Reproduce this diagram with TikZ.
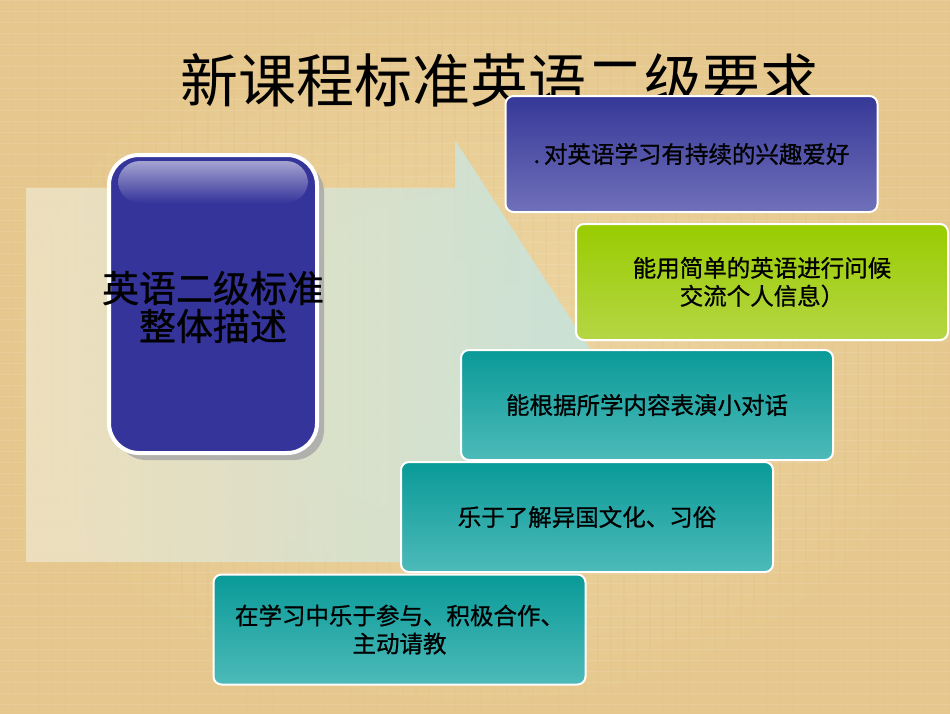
\documentclass[tikz,border=0pt]{standalone}
\usepackage{fontspec}
\newfontfamily\cjk{Noto Sans CJK SC}
\newfontfamily\cjkm[FakeBold=0.9]{Noto Sans CJK SC}
\usetikzlibrary{shadows}
\definecolor{bgtan}{HTML}{E6C88E}
\definecolor{bgtanl}{HTML}{EDD6A2}
\definecolor{navy}{HTML}{35349A}
\definecolor{navytop}{HTML}{363897}
\definecolor{navybot}{HTML}{7070BA}
\definecolor{greentop}{HTML}{99CC00}
\definecolor{greenbot}{HTML}{B5D645}
\definecolor{tealtop}{HTML}{099A98}
\definecolor{tealbot}{HTML}{4DBAB9}
\definecolor{palel}{HTML}{EFE3C4}
\definecolor{paler}{HTML}{C4E4DF}
\tikzset{
  item/.style={draw=white, line width=2pt, rounded corners=8pt,
    minimum width=372pt, minimum height=116pt, inner sep=0pt,
    align=center, text=black,
    font=\cjkm\fontsize{23.5}{28}\selectfont},
  navyitem/.style={item, top color=navytop, bottom color=navybot},
  greenitem/.style={item, top color=greentop, bottom color=greenbot},
  tealitem/.style={item, top color=tealtop, bottom color=tealbot, minimum height=110pt},
  mainbox/.style={draw=white, line width=4pt, rounded corners=30pt, fill=navy,
    minimum width=208pt, minimum height=298pt, inner sep=0pt,
    drop shadow={shadow xshift=7pt, shadow yshift=-7pt, fill=black!35, opacity=0.8}},
  maintext/.style={align=center, text=black,
    font=\cjkm\fontsize{37}{38}\selectfont},
  titletext/.style={font=\cjk\fontsize{58}{62}\selectfont, text=black}
}
\begin{document}
\begin{tikzpicture}[x=1pt,y=-1pt]
\useasboundingbox (0,0) rectangle (950,713);
% background
\shade[inner color=bgtanl, outer color=bgtan] (0,0) rectangle (950,713);
\foreach \i in {0,13,...,950} {
  \draw[bgtan!80!brown, opacity=0.12, line width=1.2pt] (\i,0) -- (\i,713);
}
\foreach \j in {0,11,...,713} {
  \draw[white, opacity=0.1, line width=1pt] (0,\j) -- (950,\j);
}
% title
\node[titletext] (title) at (499,80) {新课程标准英语二级要求};
% pale arrow
\shade[left color=palel, right color=paler, opacity=0.85]
  (26,188) -- (455,188) -- (455,140) -- (592,352) -- (592,562) -- (26,562) -- cycle;
% main box
\node[mainbox] (main) at (213,304) {};
\shade[rounded corners=22pt, top color=white!55!navy, bottom color=navy]
  (118,161) rectangle (308,203);
\node[maintext] (maintxt) at (213,307) {英语二级标准\\整体描述};
% items
\node[navyitem] (b1) at (691.5,154) {.\,对英语学习有持续的兴趣爱好};
\node[greenitem] (b2) at (762,282) {能用简单的英语进行问候\\交流个人信息）};
\node[tealitem] (b3) at (647,405) {能根据所学内容表演小对话};
\node[tealitem] (b4) at (587,517) {乐于了解异国文化、习俗};
\node[tealitem] (b5) at (399.5,629.5) {在学习中乐于参与、积极合作、\\主动请教};
\end{tikzpicture}
\end{document}
